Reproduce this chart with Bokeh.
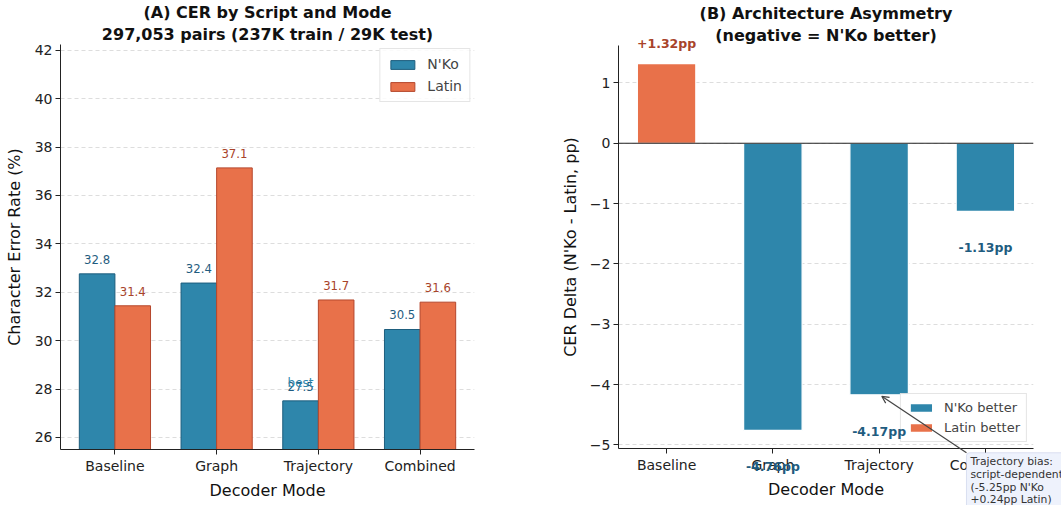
from bokeh.plotting import figure
from bokeh.models import (ColumnDataSource, Range1d, FixedTicker, Title, BoxAnnotation,
                          Legend, LegendItem, Span, Arrow, OpenHead)
from bokeh.layouts import row
from bokeh.core.properties import value
from bokeh.transform import dodge
from bokeh.embed import file_html
from bokeh.resources import INLINE

# ---------------- data ----------------
modes = ["Baseline", "Graph", "Trajectory", "Combined"]
nko_cer = [32.76, 32.38, 27.51, 30.46]
latin_cer = [31.44, 37.14, 31.68, 31.59]
delta_pp = [1.32, -4.76, -4.17, -1.13]          # N'Ko - Latin
left_yticks = [26, 28, 30, 32, 34, 36, 38, 40, 42]
right_yticks = [-5, -4, -3, -2, -1, 0, 1]
note_lines = ["Trajectory bias:", "script-dependent", "(-5.25pp N'Ko", "+0.24pp Latin)"]

# ---------------- style ----------------
FONT = "DejaVu Sans"
NKO = "#2E86AB"
LAT = "#E8714A"
NKO_EDGE = "#1E5E7E"
LAT_EDGE = "#B5472C"
NKO_TXT = "#1F5C80"
LAT_TXT = "#A8432A"
GRID = "#d4d4d4"


def style(p, yticks, overrides=None):
    p.outline_line_color = None
    p.xgrid.grid_line_color = None
    p.ygrid.grid_line_color = GRID
    p.ygrid.grid_line_dash = "4 3"
    p.ygrid.grid_line_width = 0.8
    p.ygrid.ticker = FixedTicker(ticks=yticks)
    for ax in (p.xaxis[0], p.yaxis[0]):
        ax.axis_line_color = "#222222"
        ax.axis_line_width = 1
        ax.major_tick_line_color = "#222222"
        ax.major_tick_out = 5
        ax.major_tick_in = 0
        ax.minor_tick_line_color = None
        ax.major_label_text_font = FONT
        ax.major_label_text_font_size = "14px"
        ax.major_label_text_color = "#222222"
        ax.major_label_standoff = 3
        ax.axis_label_text_font = FONT
        ax.axis_label_text_font_size = "16px"
        ax.axis_label_text_font_style = "normal"
        ax.axis_label_text_color = "#111111"
    p.yaxis[0].ticker = FixedTicker(ticks=yticks)
    p.xaxis[0].ticker = FixedTicker(ticks=list(range(len(modes))))
    p.xaxis[0].major_label_overrides = {i: m for i, m in enumerate(modes)}
    p.xaxis[0].axis_label = "Decoder Mode"
    p.xaxis[0].axis_label_standoff = 4
    if overrides:
        p.yaxis[0].major_label_overrides = overrides


def titles(p, line1, line2):
    kw = dict(text_font=FONT, text_font_size="16px", text_font_style="bold",
              align="center", text_color="#111111", offset=0)
    p.add_layout(Title(text=line2, standoff=2, **kw), "above")
    p.add_layout(Title(text=line1, standoff=0, **kw), "above")


# ---------------- panel A ----------------
xs = list(range(len(modes)))
src_a = ColumnDataSource(dict(
    x=xs, nko=nko_cer, lat=latin_cer,
    nko_lbl=[f"{v:.1f}" for v in nko_cer],
    lat_lbl=[f"{v:.1f}" for v in latin_cer],
    nko_y=[v + 0.6 for v in nko_cer],
    lat_y=[v + 0.6 for v in latin_cer],
))

A_X = (-0.535, 3.535)
A_Y = (25.5, 42.24)
p1 = figure(frame_width=414, frame_height=405, x_range=Range1d(*A_X), y_range=Range1d(*A_Y),
            output_backend="svg", toolbar_location=None, frame_align=False,
            min_border_left=60, min_border_right=54, min_border_top=43, min_border_bottom=57)
style(p1, left_yticks)
titles(p1, "(A) CER by Script and Mode", "297,053 pairs (237K train / 29K test)")
p1.yaxis[0].axis_label = "Character Error Rate (%)"
p1.yaxis[0].axis_label_standoff = 8

r_n = p1.vbar(x=dodge("x", -0.175), top="nko", bottom=A_Y[0], width=0.35, source=src_a,
              fill_color=NKO, line_color=NKO_EDGE, line_width=1)
r_l = p1.vbar(x=dodge("x", 0.175), top="lat", bottom=A_Y[0], width=0.35, source=src_a,
              fill_color=LAT, line_color=LAT_EDGE, line_width=1)

p1.text(x=dodge("x", -0.175), y="nko_y", text="nko_lbl", source=src_a,
        text_font=value(FONT), text_font_size="11.7px", text_color=NKO_TXT,
        text_align="center", text_baseline="middle")
p1.text(x=dodge("x", 0.175), y="lat_y", text="lat_lbl", source=src_a,
        text_font=value(FONT), text_font_size="11.7px", text_color=LAT_TXT,
        text_align="center", text_baseline="middle")

best = min(range(len(nko_cer)), key=lambda i: nko_cer[i])
src_best = ColumnDataSource(dict(x=[best], y=[nko_cer[best] + 0.72], t=["best"]))
p1.text(x=dodge("x", -0.175), y="y", text="t", source=src_best,
        text_font=value(FONT), text_font_size="12px", text_color=NKO,
        text_align="center", text_baseline="middle")

leg1 = Legend(items=[LegendItem(label="N'Ko", renderers=[r_n]),
                     LegendItem(label="Latin", renderers=[r_l])],
              location="top_right", margin=4, padding=7, spacing=6,
              glyph_width=30, glyph_height=11, label_text_font=FONT,
              label_text_font_size="14px", border_line_color="#cccccc",
              background_fill_alpha=0.85, label_standoff=10)
p1.add_layout(leg1)

# ---------------- panel B ----------------
pos_i = [i for i, d in enumerate(delta_pp) if d >= 0]
neg_i = [i for i, d in enumerate(delta_pp) if d < 0]

src_pos = ColumnDataSource(dict(x=pos_i, top=[delta_pp[i] for i in pos_i],
                                lbl=[f"{delta_pp[i]:+.2f}pp" for i in pos_i],
                                ly=[delta_pp[i] + 0.33 for i in pos_i]))
src_neg = ColumnDataSource(dict(x=neg_i, top=[delta_pp[i] for i in neg_i],
                                lbl=[f"{delta_pp[i]:+.2f}pp" for i in neg_i],
                                ly=[delta_pp[i] - 0.6 for i in neg_i]))

B_X = (-0.4525, 3.4525)
B_Y = (-5.06, 1.62)
B_L, B_R, B_T, B_B = 90, 28, 45, 57
B_FW, B_FH = 415, 403
fmt = {t: (f"\u2212{abs(t)}" if t < 0 else str(t)) for t in right_yticks}
p2 = figure(frame_width=B_FW, frame_height=B_FH, x_range=Range1d(*B_X), y_range=Range1d(*B_Y),
            output_backend="svg", toolbar_location=None, frame_align=False,
            min_border_left=B_L, min_border_right=B_R, min_border_top=B_T, min_border_bottom=B_B)
style(p2, right_yticks, fmt)
titles(p2, "(B) Architecture Asymmetry", "(negative = N'Ko better)")
p2.yaxis[0].axis_label = "CER Delta (N'Ko - Latin, pp)"
p2.yaxis[0].axis_label_standoff = 7

rb_neg = p2.vbar(x="x", top="top", bottom=0, width=0.55, source=src_neg,
                 fill_color=NKO, line_color="white", line_width=1.2)
rb_pos = p2.vbar(x="x", top="top", bottom=0, width=0.55, source=src_pos,
                 fill_color=LAT, line_color="white", line_width=1.2)
p2.add_layout(Span(location=0, dimension="width", line_color="#222222", line_width=1.2))

leg2 = Legend(items=[LegendItem(label="N'Ko better", renderers=[rb_neg]),
                     LegendItem(label="Latin better", renderers=[rb_pos])],
              location="bottom_right", margin=6, padding=6, spacing=5,
              glyph_width=28, glyph_height=11, label_text_font=FONT,
              label_text_font_size="13px", border_line_color="#cccccc",
              background_fill_alpha=0.85, label_standoff=9)
p2.add_layout(leg2)

# ---------------- overlay for panel B texts that sit outside its frame ----------------
sx = B_FW / (B_X[1] - B_X[0])
sy = B_FH / (B_Y[1] - B_Y[0])
OW, OH = B_L + B_FW + B_R, B_T + B_FH + B_B
OX = (B_X[0] - B_L / sx, B_X[1] + B_R / sx)
OY = (B_Y[0] - B_B / sy, B_Y[1] + B_T / sy)
p3 = figure(frame_width=OW, frame_height=OH,
            x_range=Range1d(*OX), y_range=Range1d(*OY),
            output_backend="svg", toolbar_location=None, frame_align=False,
            x_axis_location=None, y_axis_location=None,
            min_border=0, min_border_left=0, min_border_right=0,
            min_border_top=0, min_border_bottom=0)
p3.grid.visible = False
p3.outline_line_color = None
p3.background_fill_color = None
p3.border_fill_color = None
p3.margin = (0, 0, 0, -OW)

p3.text(x="x", y="ly", text="lbl", source=src_pos, text_font=value(FONT),
        text_font_size="12.5px", text_font_style="bold", text_color=LAT_TXT,
        text_align="center", text_baseline="middle")
p3.text(x="x", y="ly", text="lbl", source=src_neg, text_font=value(FONT),
        text_font_size="12.5px", text_font_style="bold", text_color=NKO_TXT,
        text_align="center", text_baseline="middle")

# annotation: arrow + note box
traj = modes.index("Trajectory")
NOTE_X, NOTE_Y = 2.822, -5.13
p3.add_layout(BoxAnnotation(left=NOTE_X, right=OX[1] + 1, top=NOTE_Y, bottom=OY[0] - 1,
                            fill_color="#EEF2FC", fill_alpha=1.0, level="underlay",
                            line_color="#9AA8D8", line_width=1, border_radius=3))
p3.add_layout(Arrow(end=OpenHead(size=7, line_color="#444444", line_width=1.2),
                    x_start=NOTE_X, y_start=NOTE_Y,
                    x_end=traj + 0.025, y_end=delta_pp[traj] - 0.025,
                    line_color="#444444", line_width=1.2))
src_note = ColumnDataSource(dict(
    x=[NOTE_X + 4 / sx] * len(note_lines),
    y=[NOTE_Y - (9 + 12.7 * i) / sy for i in range(len(note_lines))],
    t=note_lines))
p3.text(x="x", y="y", text="t", source=src_note, text_font=value(FONT),
        text_font_size="10.8px", text_color="#333333",
        text_align="left", text_baseline="middle")

layout = row(p1, p2, p3)
open("out.html", "w").write(file_html(layout, INLINE))
